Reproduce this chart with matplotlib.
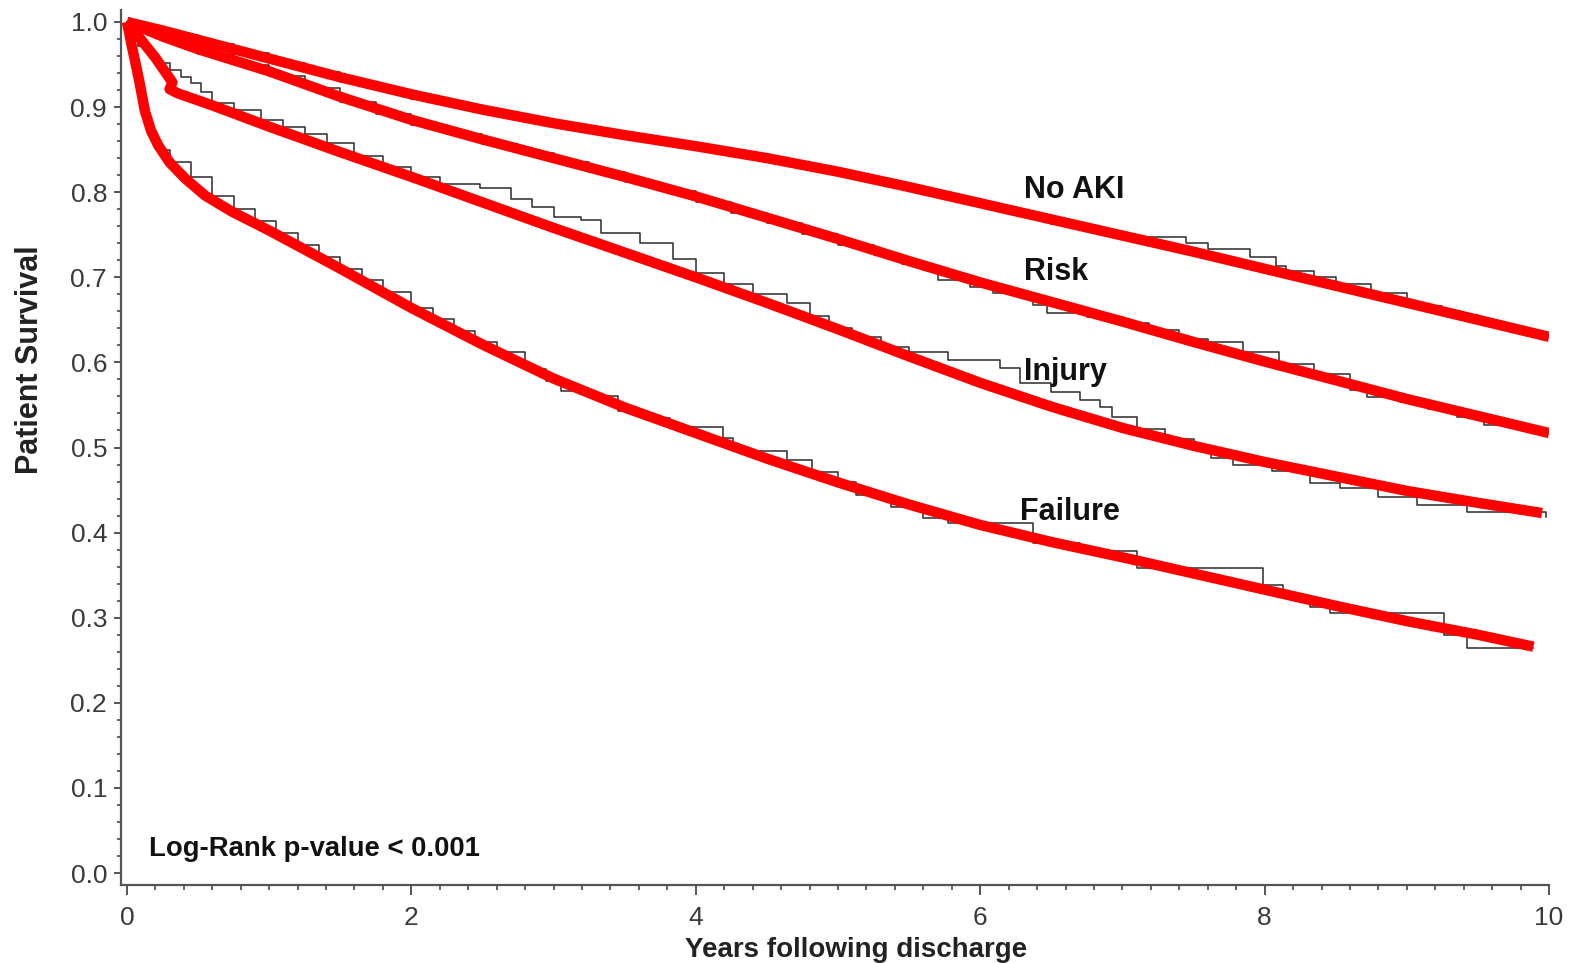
import matplotlib
matplotlib.use("Agg")
import matplotlib.pyplot as plt
from matplotlib.ticker import MultipleLocator

plt.rcParams['font.family'] = ['Liberation Sans', 'DejaVu Sans']

# ---------------- Kaplan-Meier estimates (step curves) ----------------
km_noaki_t = [0, 0.05, 0.25, 0.5, 0.75, 1.0, 1.25, 1.5, 1.75, 2.0, 2.25, 2.5,
              2.75, 3.0, 3.25, 3.5, 3.75, 4.0, 4.25, 4.5, 4.75, 5.0, 5.25,
              5.5, 5.75, 6.0, 6.25, 6.5, 6.75, 7.0, 7.15, 7.45, 7.6, 7.9,
              8.08, 8.15, 8.35, 8.5, 8.75, 9.0, 9.25, 9.5, 9.75, 10.0]
km_noaki_s = [1.0, 0.995, 0.985, 0.974, 0.963, 0.952, 0.941, 0.930, 0.920,
              0.910, 0.902, 0.894, 0.886, 0.878, 0.871, 0.864, 0.857, 0.851,
              0.844, 0.836, 0.828, 0.819, 0.811, 0.801, 0.792, 0.782, 0.773,
              0.763, 0.754, 0.749, 0.747, 0.740, 0.733, 0.724, 0.713, 0.707,
              0.700, 0.692, 0.681, 0.666, 0.656, 0.645, 0.635, 0.633]

km_risk_t = [0, 0.05, 0.25, 0.5, 0.75, 1.0, 1.25, 1.5, 1.75, 2.0, 2.25, 2.5,
             2.75, 3.0, 3.25, 3.5, 3.75, 4.0, 4.25, 4.5, 4.75, 5.0, 5.25,
             5.45, 5.6, 5.7, 5.93, 6.09, 6.37, 6.47, 6.75, 6.93, 7.19, 7.4,
             7.6, 7.85, 8.1, 8.35, 8.6, 8.72, 8.95, 9.15, 9.35, 9.54, 9.8,
             10.0]
km_risk_s = [1.0, 0.99, 0.978, 0.962, 0.949, 0.936, 0.922, 0.906, 0.892,
             0.879, 0.868, 0.857, 0.846, 0.835, 0.824, 0.812, 0.801, 0.789,
             0.776, 0.764, 0.751, 0.738, 0.726, 0.716, 0.709, 0.697, 0.689,
             0.681, 0.667, 0.658, 0.653, 0.646, 0.638, 0.628, 0.624, 0.612,
             0.598, 0.586, 0.567, 0.559, 0.553, 0.545, 0.536, 0.526, 0.521,
             0.520]

km_injury_t = [0, 0.03, 0.08, 0.15, 0.22, 0.3, 0.38, 0.45, 0.52, 0.6, 0.75,
               0.94, 1.1, 1.25, 1.41, 1.6, 1.8, 2.0, 2.2, 2.48, 2.7, 2.85,
               3.0, 3.19, 3.33, 3.61, 3.84, 4.0, 4.2, 4.4, 4.64, 4.8, 4.94,
               5.1, 5.3, 5.5, 5.77, 6.14, 6.28, 6.5, 6.7, 6.84, 6.93, 7.1,
               7.3, 7.5, 7.62, 7.78, 8.05, 8.32, 8.53, 8.8, 9.07, 9.42, 9.98]
km_injury_s = [1.0, 0.985, 0.972, 0.962, 0.952, 0.943, 0.935, 0.928, 0.918,
               0.905, 0.896, 0.885, 0.876, 0.868, 0.858, 0.843, 0.830, 0.818,
               0.810, 0.805, 0.792, 0.782, 0.771, 0.767, 0.752, 0.740, 0.722,
               0.705, 0.692, 0.680, 0.670, 0.655, 0.640, 0.630, 0.618, 0.612,
               0.603, 0.593, 0.576, 0.565, 0.556, 0.548, 0.536, 0.522, 0.510,
               0.500, 0.488, 0.480, 0.472, 0.458, 0.452, 0.442, 0.432, 0.424,
               0.418]

km_failure_t = [0, 0.005, 0.015, 0.03, 0.05, 0.08, 0.12, 0.17, 0.22, 0.3,
                0.45, 0.6, 0.75, 0.9, 1.05, 1.2, 1.35, 1.5, 1.65, 1.8, 2.0,
                2.15, 2.3, 2.45, 2.6, 2.8, 2.95, 3.05, 3.23, 3.45, 3.62, 3.82,
                4.19, 4.26, 4.64, 4.82, 5.0, 5.13, 5.37, 5.6, 5.77, 6.37, 6.7,
                7.1, 7.99, 8.13, 8.32, 8.46, 9.26, 9.42, 9.89]
km_failure_s = [1.0, 0.985, 0.97, 0.955, 0.94, 0.915, 0.885, 0.862, 0.85,
                0.835, 0.818, 0.795, 0.78, 0.766, 0.752, 0.738, 0.724, 0.71,
                0.697, 0.683, 0.664, 0.651, 0.637, 0.624, 0.612, 0.592, 0.578,
                0.566, 0.56, 0.543, 0.535, 0.524, 0.511, 0.496, 0.485, 0.471,
                0.460, 0.444, 0.430, 0.417, 0.411, 0.388, 0.378, 0.358, 0.338,
                0.325, 0.313, 0.305, 0.280, 0.264, 0.264]

# ---------------- fitted survival curves (red) ----------------
fit_noaki_t = [0, 0.25, 0.5, 1, 1.5, 2, 2.5, 3, 3.5, 4, 4.5, 5, 5.5, 6, 6.5,
               7, 7.5, 8, 8.5, 9, 9.5, 10]
fit_noaki_s = [1.0, 0.99, 0.979, 0.957, 0.935, 0.915, 0.897, 0.881, 0.867,
               0.854, 0.840, 0.824, 0.806, 0.787, 0.768, 0.749, 0.730, 0.710,
               0.690, 0.670, 0.650, 0.630]

fit_risk_t = [0, 0.25, 0.5, 1, 1.5, 2, 2.5, 3, 3.5, 4, 4.5, 5, 5.5, 6, 6.5,
              7, 7.5, 8, 8.5, 9, 9.5, 10]
fit_risk_s = [1.0, 0.983, 0.968, 0.942, 0.912, 0.885, 0.862, 0.840, 0.818,
              0.795, 0.770, 0.745, 0.719, 0.694, 0.671, 0.648, 0.624, 0.601,
              0.579, 0.557, 0.537, 0.517]

fit_injury_t = [0, 0.1, 0.2, 0.32, 0.3, 0.36, 0.6, 1, 1.5, 2, 2.5, 3, 3.5, 4,
                4.5, 5, 5.5, 6, 6.5, 7, 7.5, 8, 8.5, 9, 9.5, 9.95]
fit_injury_s = [1.0, 0.979, 0.958, 0.929, 0.921, 0.916, 0.902, 0.877, 0.847,
                0.818, 0.788, 0.758, 0.729, 0.700, 0.670, 0.639, 0.607, 0.576,
                0.548, 0.523, 0.502, 0.483, 0.466, 0.449, 0.435, 0.423]

fit_failure_t = [0, 0.015, 0.03, 0.06, 0.085, 0.127, 0.17, 0.22, 0.3, 0.41,
                 0.55, 0.74, 1.0, 1.48, 2, 2.5, 3, 3.5, 4, 4.5, 5, 5.5, 6,
                 6.5, 7, 7.5, 8, 8.5, 9, 9.5, 9.89]
fit_failure_s = [1.0, 0.988, 0.975, 0.952, 0.932, 0.895, 0.872, 0.855,
                 0.835, 0.816, 0.796, 0.777, 0.755, 0.712, 0.664, 0.621,
                 0.581, 0.547, 0.517, 0.487, 0.459, 0.433, 0.409, 0.389,
                 0.371, 0.352, 0.333, 0.314, 0.296, 0.280, 0.266]

groups = ["No AKI", "Risk", "Injury", "Failure"]
label_pos = [(6.31, 0.803), (6.31, 0.706), (6.31, 0.589), (6.28, 0.424)]

km_curves = [(km_noaki_t, km_noaki_s), (km_risk_t, km_risk_s),
             (km_injury_t, km_injury_s), (km_failure_t, km_failure_s)]
fit_curves = [(fit_noaki_t, fit_noaki_s), (fit_risk_t, fit_risk_s),
              (fit_injury_t, fit_injury_s), (fit_failure_t, fit_failure_s)]

fig = plt.figure(figsize=(15.77, 9.63), dpi=100)
ax = fig.add_axes([0.0767, 0.081, 0.9056, 0.9086])

for t, s in km_curves:
    ax.plot(t, s, drawstyle='steps-post', color='#2b2b2b', lw=1.1, zorder=2)

for t, s in fit_curves:
    ax.plot(t, s, color='#ff0000', lw=7.5, solid_capstyle='butt',
            solid_joinstyle='round', zorder=3)

for name, (x, y) in zip(groups, label_pos):
    ax.text(x, y, name, fontsize=22, fontweight='bold', color='#111111',
            ha='left', va='center', zorder=4)

ax.text(0.155, 0.028, "Log-Rank p-value < 0.001", fontsize=19.8,
        fontweight='bold', color='#111111', ha='left', va='center')

ax.set_xlim(-0.042, 10.0)
ax.set_ylim(-0.014, 1.014)
ax.xaxis.set_major_locator(MultipleLocator(2))
ax.xaxis.set_minor_locator(MultipleLocator(0.2))
ax.yaxis.set_major_locator(MultipleLocator(0.1))
ax.yaxis.set_minor_locator(MultipleLocator(0.02))
ax.yaxis.set_major_formatter(plt.FuncFormatter(lambda v, p: f"{v:.1f}"))

for side in ['top', 'right']:
    ax.spines[side].set_visible(False)
for side in ['left', 'bottom']:
    ax.spines[side].set_color('#555555')
    ax.spines[side].set_linewidth(1.6)

ax.tick_params(axis='both', which='major', labelsize=19, labelcolor='#3a3a3a',
               color='#555555', width=1.4, direction='out')
ax.tick_params(axis='x', which='major', length=7, pad=8)
ax.tick_params(axis='y', which='major', length=5, pad=5)
ax.tick_params(axis='x', which='minor', length=3.6, width=1.3, color='#555555')
ax.tick_params(axis='y', which='minor', length=3, width=1.3, color='#555555')

ax.set_xlabel("Years following discharge", fontsize=20, fontweight='bold',
              color='#222222', va='center')
ax.xaxis.set_label_coords(0.515, -0.074)
ax.set_ylabel("Patient Survival", fontsize=22, fontweight='bold',
              color='#222222', va='center')
ax.yaxis.set_label_coords(-0.064, 0.6)

fig.savefig("out.png", dpi=100)
